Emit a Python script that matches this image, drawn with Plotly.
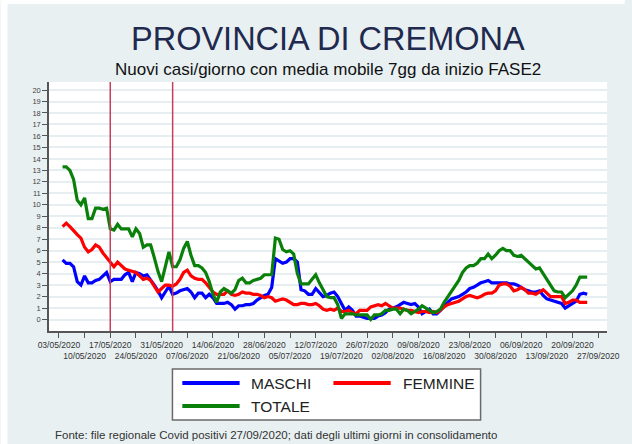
import plotly.graph_objects as go
import pandas as pd

# ---------------- data ----------------
start_date = "2020-05-04"

maschi = [5.2, 4.9, 4.9, 4.6, 3.3, 3.0, 3.8, 3.2, 3.2, 3.4,
          3.5, 3.8, 4.1, 3.3, 3.5, 3.5, 3.5, 3.9, 4.1, 3.3,
          4.1, 4.0, 3.8, 3.9, 3.5, 3.0, 2.5, 1.9, 2.4, 2.9,
          2.2, 2.3, 2.5, 2.6, 2.7, 2.4, 1.9, 2.3, 2.3, 1.9,
          2.2, 1.9, 1.4, 1.4, 1.4, 1.5, 1.3, 0.9, 1.2, 1.2,
          1.3, 1.3, 1.4, 1.7, 1.9, 2.1, 2.2, 2.8, 5.3, 5.1,
          4.9, 5.0, 5.3, 5.3, 5.0, 2.6, 2.5, 2.2, 2.2, 2.7,
          2.3, 2.0, 2.1, 2.3, 2.4, 2.0, 1.4, 0.8, 1.1, 0.8,
          0.3, 0.3, 0.2, 0.1, 0.1, 0.1, 0.3, 0.4, 0.6, 0.9,
          1.0, 1.1, 1.3, 1.5, 1.4, 1.3, 1.4, 1.1, 0.5, 0.7,
          0.9, 0.5, 0.5, 0.8, 1.2, 1.5, 1.8, 1.9, 2.0, 2.2,
          2.4, 2.7, 2.8, 3.0, 3.2, 3.3, 3.4, 3.2, 3.2, 3.2,
          3.2, 3.2, 3.1, 3.1, 3.0, 2.8, 2.6, 2.5, 2.4, 2.4,
          2.5, 2.1, 1.8, 1.7, 1.6, 1.5, 1.4, 1.0, 1.2, 1.4,
          1.6, 2.2, 2.3, 2.2]

femmine = [8.1, 8.4, 8.1, 7.7, 7.4, 7.1, 6.3, 5.9, 6.1, 6.5,
           6.3, 5.8, 5.4, 4.9, 4.6, 5.0, 4.7, 4.4, 4.3, 4.2,
           4.1, 3.8, 3.5, 3.6, 3.4, 2.9, 2.4, 2.7, 3.0, 3.0,
           2.9, 3.1, 3.5, 4.1, 4.3, 3.8, 3.6, 3.5, 3.5, 3.2,
           2.8, 2.4, 2.2, 2.2, 2.2, 2.5, 2.2, 2.1, 2.2, 2.4,
           2.3, 2.3, 2.2, 2.2, 2.1, 1.9, 2.0, 1.9, 1.6, 1.7,
           1.8, 1.7, 1.5, 1.3, 1.3, 1.4, 1.4, 1.3, 1.3, 1.4,
           1.2, 0.9, 0.8, 0.9, 0.8, 1.0, 0.7, 0.7, 0.8, 0.6,
           0.5, 0.8, 0.8, 0.8, 1.1, 1.2, 1.3, 1.2, 1.4, 1.2,
           1.0, 1.0, 1.0, 0.9, 0.8, 0.8, 0.7, 0.6, 0.7, 0.7,
           0.6, 0.7, 0.6, 0.8, 1.1, 1.3, 1.4, 1.5, 1.6, 1.8,
           2.0, 2.1, 2.0, 1.9, 2.0, 2.2, 2.3, 2.3, 2.5, 3.0,
           3.1, 3.1, 2.9, 2.5, 2.6, 2.8, 2.6, 2.3, 2.3, 2.2,
           2.4, 2.6, 2.3, 2.0, 2.0, 2.0, 2.0, 1.4, 1.5, 1.7,
           1.7, 1.5, 1.5, 1.5]

totale = [13.3, 13.3, 13.0, 12.2, 10.4, 10.0, 10.6, 8.8, 8.8, 9.7,
          9.7, 9.6, 9.7, 7.9, 7.8, 8.3, 7.9, 7.9, 7.9, 7.2,
          7.9, 7.5, 6.3, 6.5, 6.5, 5.4, 4.2, 3.3, 4.5, 5.9,
          4.6, 4.6, 5.2, 6.2, 6.8, 5.6, 4.7, 4.7, 4.5, 4.1,
          3.3, 2.2, 1.5, 2.4, 2.7, 2.5, 2.3, 2.6, 3.4, 3.6,
          3.2, 3.2, 3.4, 3.5, 3.6, 3.9, 3.9, 3.9, 7.1, 7.0,
          6.1, 5.9, 6.0, 5.7, 4.0, 3.1, 3.1, 3.1, 3.5, 3.9,
          3.2, 2.6, 2.0, 1.9, 1.9, 1.3, 0.1, 0.5, 0.5, 0.5,
          0.4, 0.4, 0.4, 0.4, 0.0, 0.4, 0.4, 0.5, 0.8, 0.8,
          0.9, 0.9, 0.5, 0.9, 0.8, 0.5, 0.7, 0.9, 1.2, 1.0,
          0.8, 0.6, 0.7, 0.9, 1.5, 2.0, 2.5, 2.9, 3.4, 4.1,
          4.5, 4.7, 4.7, 4.9, 5.3, 5.3, 5.7, 5.3, 5.6, 6.0,
          6.2, 6.0, 6.0, 5.6, 5.5, 5.6, 5.3, 5.0, 4.7, 4.4,
          4.5, 4.0, 3.4, 3.0, 2.5, 2.4, 2.4, 1.9, 2.2, 2.5,
          3.0, 3.7, 3.7, 3.7]

series_names = ["MASCHI", "FEMMINE", "TOTALE"]
series_colors = ["#0000FF", "#FF0000", "#0A800A"]

tick_start = "2020-05-03"
tick_end = "2020-09-27"
phase_dates = ["2020-05-17", "2020-06-03"]
y_ticks = list(range(0, 21))

title_text = "PROVINCIA DI CREMONA"
subtitle_text = "Nuovi casi/giorno con media mobile 7gg da inizio FASE2"
source_text = ("Fonte: file regionale Covid positivi 27/09/2020; "
               "dati degli ultimi giorni in consolidamento")

# ---------------- geometry (pixels) ----------------
W, H = 632, 444
L, R, T, B = 49, 614, 82, 331
FONT = "Arial, Liberation Sans, sans-serif"


def px(x):
    return (x - L) / (R - L)


def py(y):
    return (B - y) / (B - T)


dates = pd.date_range(start_date, periods=len(totale), freq="D")
tick_dates = pd.date_range(tick_start, tick_end, freq="7D")
tick_text = [("" if i % 2 == 0 else "<br>") + d.strftime("%d/%m/%Y")
             for i, d in enumerate(tick_dates)]

fig = go.Figure()
for name, vals, col in zip(series_names, [maschi, femmine, totale], series_colors):
    fig.add_trace(go.Scatter(x=dates, y=vals, name=name, mode="lines",
                             line=dict(color=col, width=3.2), showlegend=False))

x0 = pd.Timestamp(tick_start) - pd.Timedelta(hours=2.7 * 24)
x1 = pd.Timestamp(tick_start) + pd.Timedelta(hours=149.4 * 24)

fig.update_xaxes(range=[x0, x1], tickvals=tick_dates, ticktext=tick_text,
                 ticks="outside", ticklen=5, tickcolor="#555", tickwidth=1,
                 showline=True, linecolor="#555", linewidth=1.5,
                 showgrid=False, zeroline=False,
                 tickfont=dict(family=FONT, size=8.5, color="#333"),
                 tickangle=0)
fig.update_yaxes(range=[-1, 20.7], tickvals=y_ticks,
                 ticks="outside", ticklen=5, tickcolor="#555", tickwidth=1,
                 showline=True, linecolor="#555", linewidth=1.5,
                 showgrid=True, gridcolor="#E6EEF1", gridwidth=1.5,
                 zeroline=False,
                 tickfont=dict(family=FONT, size=7.5, color="#444"))

shapes = []
for d in phase_dates:
    shapes.append(dict(type="line", xref="x", yref="paper", x0=d, x1=d,
                       y0=0, y1=1, line=dict(color="#C83C5C", width=1.5)))
# white frame strips at left and top of the image
shapes.append(dict(type="rect", xref="paper", yref="paper", x0=px(0), x1=px(7),
                   y0=py(H), y1=py(0), fillcolor="white", line_width=0))
shapes.append(dict(type="rect", xref="paper", yref="paper", x0=px(0), x1=px(W),
                   y0=py(4), y1=py(0), fillcolor="white", line_width=0))
# legend box
shapes.append(dict(type="rect", xref="paper", yref="paper", x0=px(174), x1=px(486),
                   y0=py(420), y1=py(369), fillcolor="white",
                   line=dict(color="#6A6A6A", width=1.5)))
legend_pos = [(184, 383), (337, 383), (184, 406)]
annotations = []
for (lx, ly), name, col in zip(legend_pos, series_names, series_colors):
    shapes.append(dict(type="line", xref="paper", yref="paper",
                       x0=px(lx), x1=px(lx + 58), y0=py(ly), y1=py(ly),
                       line=dict(color=col, width=4)))
    annotations.append(dict(xref="paper", yref="paper", x=px(lx + 68), y=py(ly),
                            text=name, showarrow=False, xanchor="left",
                            yanchor="middle",
                            font=dict(family=FONT, size=15.5, color="#222")))

annotations.append(dict(xref="paper", yref="paper", x=px(331), y=py(39),
                        text=title_text, showarrow=False, xanchor="center",
                        yanchor="middle",
                        font=dict(family=FONT, size=32.5, color="#1F2A4E")))
annotations.append(dict(xref="paper", yref="paper", x=px(332), y=py(69),
                        text=subtitle_text, showarrow=False, xanchor="center",
                        yanchor="middle",
                        font=dict(family=FONT, size=17, color="#111")))
annotations.append(dict(xref="paper", yref="paper", x=px(53), y=py(435),
                        text=source_text, showarrow=False, xanchor="left",
                        yanchor="middle",
                        font=dict(family=FONT, size=11.5, color="#333")))

fig.update_layout(width=W, height=H,
                  margin=dict(l=L, r=W - R, t=T, b=H - B, pad=0),
                  paper_bgcolor="#E8F0F2", plot_bgcolor="white",
                  shapes=shapes, annotations=annotations, showlegend=False)

fig.write_html("out.html", config={"displayModeBar": False},
               post_script="document.body.style.margin='0';"
                           "document.body.style.overflow='hidden';")
